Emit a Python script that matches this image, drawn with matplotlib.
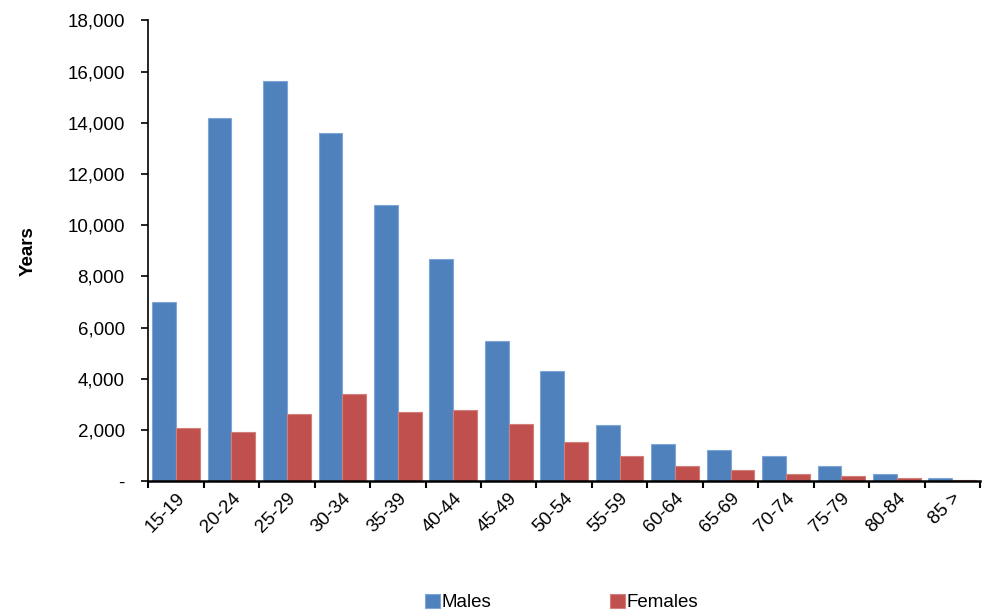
import matplotlib.pyplot as plt
import numpy as np
from matplotlib.ticker import FuncFormatter

ages = ['15-19', '20-24', '25-29', '30-34', '35-39', '40-44', '45-49', '50-54',
        '55-59', '60-64', '65-69', '70-74', '75-79', '80-84', '85 >']
males = [6990, 14200, 15630, 13600, 10780, 8670, 5470, 4300, 2190, 1450, 1200, 980, 590, 270, 120]
females = [2070, 1910, 2620, 3400, 2700, 2770, 2230, 1520, 980, 590, 430, 270, 200, 120, 40]

plt.rcParams['font.family'] = ['Liberation Sans', 'DejaVu Sans']
fig, ax = plt.subplots(figsize=(9.82, 6.16), dpi=100)
fig.subplots_adjust(left=0.151, right=0.998, top=0.967, bottom=0.219)

x = np.arange(len(ages))
w = 0.43
ax.bar(x - w / 2, males, w, color='#4f81bd', edgecolor='#7fa6d6', linewidth=0.8, label='Males')
ax.bar(x + w / 2, females, w, color='#c0504d', edgecolor='#d27f7c', linewidth=0.8, label='Females')

ax.set_xlim(-0.5, len(ages) - 0.5)
ax.set_ylim(0, 18000)
ax.set_yticks(range(0, 18001, 2000))
ax.yaxis.set_major_formatter(FuncFormatter(lambda v, p: '-' if v == 0 else f'{int(v):,}'))
ax.set_xticks(np.arange(len(ages) + 1) - 0.5, minor=False)
ax.set_xticklabels([])
ax.set_xticks(x, minor=True)
ax.set_xticklabels(ages, minor=True, rotation=45, ha='right', rotation_mode='anchor', fontsize=13.5)
ax.tick_params(axis='x', which='minor', length=0, pad=6)
ax.tick_params(axis='x', which='major', length=5, width=1.5, direction='out')
ax.tick_params(axis='y', labelsize=13.5, length=5, width=1.2, direction='out', pad=12)
ax.set_ylabel('Years', fontsize=13.5, fontweight='bold', labelpad=22)

for s in ['top', 'right']:
    ax.spines[s].set_visible(False)
ax.spines['bottom'].set_linewidth(1.8)
ax.spines['left'].set_linewidth(1.2)

fig.legend(loc='lower center', ncol=2, frameon=False, fontsize=13.5, bbox_to_anchor=(0.572, -0.02),
           handlelength=0.8, handleheight=0.8, columnspacing=6.3, handletextpad=0.1)
fig.savefig('out.png')
